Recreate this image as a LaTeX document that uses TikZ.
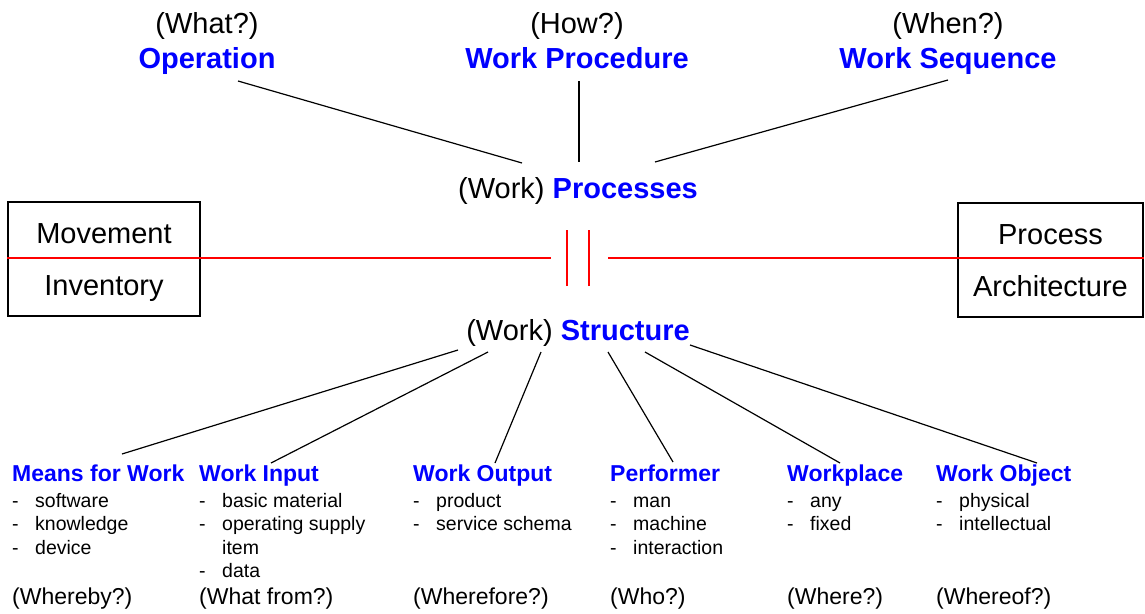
\documentclass[tikz,border=0pt]{standalone}
\usepackage{fontspec}
\setmainfont{Liberation Sans}
\usetikzlibrary{positioning, calc}
\definecolor{headblue}{RGB}{0,0,255}
\tikzstyle{big} = [inner sep=0, anchor=base, font=\fontsize{29}{35}\selectfont]
\tikzstyle{title} = [big, text=headblue, font=\fontsize{29}{35}\selectfont\bfseries]
\tikzstyle{box} = [draw, line width=1.3pt, minimum height=114pt, align=center, inner sep=0, font=\fontsize{29}{52}\selectfont]
\tikzstyle{head} = [inner sep=0, anchor=base west, text=headblue, font=\fontsize{23}{28}\selectfont\bfseries]
\tikzstyle{items} = [inner sep=0, anchor=north west, align=left, font=\fontsize{19.5}{23.5}\selectfont]
\tikzstyle{ask} = [inner sep=0, anchor=base west, font=\fontsize{23}{28}\selectfont]
\tikzstyle{line} = [draw, line width=1.2pt]
\tikzstyle{redline} = [draw, red, line width=1.2pt]
\newcommand{\dashitem}[1]{\strut\makebox[23pt][l]{-}#1}
\newcommand{\boxtext}[2]{\rule{0pt}{27pt}#1\\#2\rule[-7pt]{0pt}{7pt}}
\begin{document}
\begin{tikzpicture}[x=1pt, y=-1pt]
    \useasboundingbox (0,0) rectangle (1145,613);
    % Top
    \node [big] (whatq) at (207,33) {(What?)};
    \node [title] (op) at (207,68) {Operation};
    \node [big] (howq) at (577,33) {(How?)};
    \node [title] (wp) at (577,68) {Work Procedure};
    \node [big] (whenq) at (948,33) {(When?)};
    \node [title] (ws) at (948,68) {Work Sequence};

    % Hubs
    \node [big] (proc) at (578,198) {(Work) \textcolor{headblue}{\bfseries Processes}};
    \node [big] (struct) at (578,340) {(Work) \textcolor{headblue}{\bfseries Structure}};

    % Boxes
    \node [box, minimum width=192pt] (mi) at (104,259) {\boxtext{Movement}{Inventory}};
    \node [box, minimum width=185pt] (pa) at (1050.5,260) {\boxtext{Process}{Architecture}};
    \coordinate (gapL) at (567,258);
    \coordinate (gapR) at (589,258);

    % Bottom columns
    \node [head] (means) at (12,481) {Means for Work};
    \node [items] (meanslist) at (12,490.5) {\dashitem{software}\\\dashitem{knowledge}\\\dashitem{device}};
    \node [ask] (meansq) at (12,604) {(Whereby?)};

    \node [head] (input) at (199,481) {Work Input};
    \node [items] (inputlist) at (199,490.5) {\dashitem{basic material}\\\dashitem{operating supply}\\\hspace*{23pt}item\\\dashitem{data}};
    \node [ask] (inputq) at (199,604) {(What from?)};

    \node [head] (output) at (413,481) {Work Output};
    \node [items] (outputlist) at (413,490.5) {\dashitem{product}\\\dashitem{service schema}};
    \node [ask] (outputq) at (413,604) {(Wherefore?)};

    \node [head] (perf) at (610,481) {Performer};
    \node [items] (perflist) at (610,490.5) {\dashitem{man}\\\dashitem{machine}\\\dashitem{interaction}};
    \node [ask] (perfq) at (610,604) {(Who?)};

    \node [head] (place) at (787,481) {Workplace};
    \node [items] (placelist) at (787,490.5) {\dashitem{any}\\\dashitem{fixed}};
    \node [ask] (placeq) at (787,604) {(Where?)};

    \node [head] (object) at (936,481) {Work Object};
    \node [items] (objectlist) at (936,490.5) {\dashitem{physical}\\\dashitem{intellectual}};
    \node [ask] (objectq) at (936,604) {(Whereof?)};

    % Lines
    \path [line] ([shift={(31,13)}]op.base) -- ([shift={(-56,-35)}]proc.base);
    \path [line] ([shift={(2,13)}]wp.base) -- ([shift={(1,-36)}]proc.base);
    \path [line] ([shift={(0,12)}]ws.base) -- ([shift={(77,-36)}]proc.base);

    \path [line] ([shift={(-120,10)}]struct.base) -- ([shift={(110,-27)}]means.base west);
    \path [line] ([shift={(-90,12)}]struct.base) -- ([shift={(72,-18)}]input.base west);
    \path [line] ([shift={(-37,12)}]struct.base) -- ([shift={(82,-18)}]output.base west);
    \path [line] ([shift={(30,12)}]struct.base) -- ([shift={(63,-19)}]perf.base west);
    \path [line] ([shift={(67,12)}]struct.base) -- ([shift={(53,-18)}]place.base west);
    \path [line] ([shift={(112,5)}]struct.base) -- ([shift={(101,-18)}]object.base west);

    % Red divider
    \path [redline] (mi.west |- gapL) -- ([xshift=-16pt]gapL);
    \path [redline] ([xshift=19pt]gapR) -- (pa.east |- gapR);
    \path [redline] ([yshift=-28pt]gapL) -- ([yshift=28pt]gapL);
    \path [redline] ([yshift=-28pt]gapR) -- ([yshift=28pt]gapR);
\end{tikzpicture}
\end{document}
